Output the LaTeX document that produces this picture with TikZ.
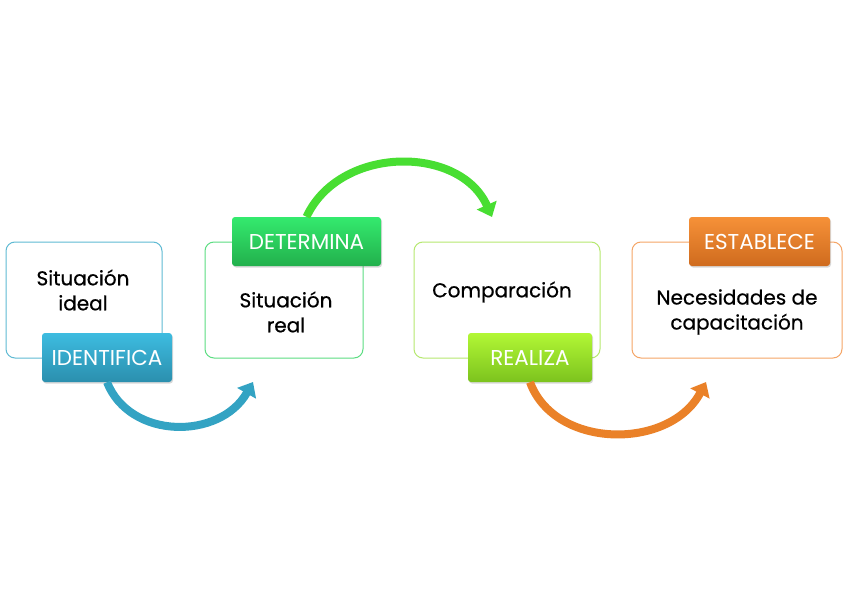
\documentclass[tikz,border=0pt]{standalone}
\usepackage{fontspec}
\setmainfont{Poppins}
\newfontfamily\medfont{Poppins}[FakeBold=0.6]
\usetikzlibrary{arrows.meta,shadows}
\definecolor{bBlue}{HTML}{5FBAD3}
\definecolor{bGreen}{HTML}{5CDD82}
\definecolor{bLime}{HTML}{B6E870}
\definecolor{bOrange}{HTML}{F5A566}
\definecolor{lBlueT}{HTML}{3DBCE0}\definecolor{lBlueB}{HTML}{2B8FAE}
\definecolor{lGreenT}{HTML}{34EA6E}\definecolor{lGreenB}{HTML}{22B04C}
\definecolor{lLimeT}{HTML}{B2F735}\definecolor{lLimeB}{HTML}{7CC31E}
\definecolor{lOrangeT}{HTML}{F69138}\definecolor{lOrangeB}{HTML}{CF6B1E}
\definecolor{aBlue}{HTML}{33A3C3}
\definecolor{aGreen}{HTML}{48DE32}
\definecolor{aOrange}{HTML}{EA8128}
\tikzset{
  box/.style={draw, line width=1pt, rounded corners=9pt, inner sep=0pt},
  txt/.style={align=center, font=\medfont\fontsize{20}{25}\selectfont, text=black, inner sep=0pt},
  lab/.style={rounded corners=3pt, inner sep=0pt, text=white,
    font=\fontsize{21.5}{22}\selectfont,
    drop shadow={opacity=0.3, shadow xshift=1pt, shadow yshift=-1.5pt}},
  arr/.style={line width=8pt, -{Triangle[width=21pt,length=13pt]}}
}
\begin{document}
\begin{tikzpicture}[x=1pt,y=-1pt]
\useasboundingbox[fill=white] (0,0) rectangle (849,599);
% boxes
\node[box, draw=bBlue, minimum width=156pt, minimum height=116pt] (box1) at (84,300) {};
\node[box, draw=bGreen, minimum width=158pt, minimum height=116pt] (box2) at (284,300) {};
\node[box, draw=bLime, minimum width=186pt, minimum height=116pt] (box3) at (507,300) {};
\node[box, draw=bOrange, minimum width=210pt, minimum height=116pt] (box4) at (737,300) {};
% texts
\node[txt] (t1) at (83,290) {Situación\\ideal};
\node[txt] (t2) at (286,312) {Situación\\real};
\node[txt] (t3) at (502,292) {Comparación};
\node[txt] (t4) at (737,312) {Necesidades de\\capacitación};
% arrow end points
\coordinate (e1) at (253,382);
\coordinate (e2) at (492,217);
\coordinate (e3) at (706,382);
% labels
\node[lab, top color=lBlueT, bottom color=lBlueB, minimum width=130pt, minimum height=49pt] (l1) at (107,357.5) {IDENTIFICA};
\node[lab, top color=lGreenT, bottom color=lGreenB, minimum width=149pt, minimum height=49pt] (l2) at (306.5,241.5) {DETERMINA};
\node[lab, top color=lLimeT, bottom color=lLimeB, minimum width=124pt, minimum height=49pt] (l3) at (530,357.5) {REALIZA};
\node[lab, top color=lOrangeT, bottom color=lOrangeB, minimum width=141pt, minimum height=49pt] (l4) at (759.5,241.5) {ESTABLECE};
% arrows
\draw[arr, draw=aBlue] (l1.south) .. controls (130,440) and (220,440) .. (e1);
\draw[arr, draw=aGreen] (l2.north) .. controls (340,145) and (460,145) .. (e2);
\draw[arr, draw=aOrange] (l3.south) .. controls (555,450) and (670,450) .. (e3);
\end{tikzpicture}
\end{document}
